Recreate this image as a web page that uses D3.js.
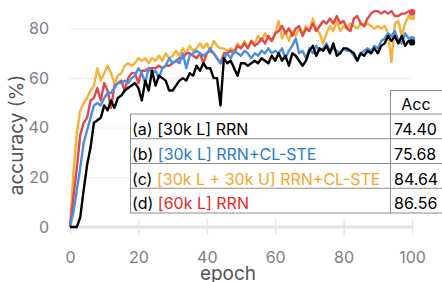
<!DOCTYPE html>
<html>
<head>
<meta charset="utf-8">
<script src="https://cdn.jsdelivr.net/npm/d3@7"></script>
<style>
  body { margin: 0; background: #fff; }
  svg text { font-family: Inter, "Liberation Sans", Arial, sans-serif; }
</style>
</head>
<body>
<div id="chart-area"></div>
<script>
const width = 442, height = 282;

// epochs 0..100
const epochs = d3.range(0, 101);

const accA = [0,0,0,4,15,25,32,42,43,44,
  49,47,51,48,52,53,55,56,57,58,
  56,51,59,55,63,57,61,60,59,55,
  55,57,59,60,59,62,61,65,63,66,
  64,64,60,60,49,68,66,67,64,61,
  66,66,65,66,67,66,68,67,66,69,
  67,70,67,69,65,70,69,67,65,67,
  71,73,69,72,71,73,70,74,69,70,
  72,72,71,70,67,70,69,71,70,72,
  70,73,74,77,75,77,74,77,73,75,
  74.4];

const accB = [0,6,15,24,34,39,44,49,50,49,
  52,54,54,56,58,58,59,58,60,61,
  64,62,58,64,62,63,60,64,65,68,
  66,67,66,70,64,69,70,71,70,69,
  70,72,70,68,66,68,70,68,71,70,
  69,71,70,68,70,69,71,70,72,70,
  71,70,72,68,71,73,76,70,71,68,
  72,70,73,71,72,74,71,72,71,70,
  72,71,71,69,67,70,71,72,71,73,
  72,75,76,78,77,79,75,74,78,76,
  75.68];

const accC = [0,22,38,47,50,52,55,57,64,59,
  62,65,62,58,61,62,65,66,65,66,
  68,67,68,66,68,67,69,67,70,68,
  69,71,69,72,70,73,71,72,74,72,
  74,71,75,73,72,72,71,72,71,74,
  72,75,72,75,74,77,75,78,76,75,
  78,83,76,79,75,79,77,80,78,81,
  79,84,80,78,74,78,81,79,83,79,
  81,80,82,81,80,82,81,82,81,80,
  81,80,81,78,66.5,82,83,77,82,85,
  84.64];

const accD = [0,12,24,37,42,44,51,52,56,51,
  58,55,48,57,58,59,55,60,62,62,
  58,63,63,64,64,64,65,64,65,65,
  66,67,68,68,70,70,69,68,70,66,
  70,71,70,68,66,70,70,71,70,73,
  72,74,72,75,73,74,76,74,77,75,
  78,79,81,78,80,77,80,81,77,80,
  79,82,79,81,83,82,84,82,85,82,
  83,80,79,84,85,82,81,84,86,87,
  87,86,87,86,87,85,85,86,86,87,
  86.56];

const rowLabels = ["(a) ", "(b) ", "(c) ", "(d) "];
const rowNames = ["[30k L] RRN", "[30k L] RRN+CL-STE", "[30k L + 30k U] RRN+CL-STE", "[60k L] RRN"];
const rowAcc = ["74.40", "75.68", "84.64", "86.56"];
const xTicks = [0, 20, 40, 60, 80, 100];
const yTicks = [0, 20, 40, 60, 80];

const lineColors = {a:"#000000", b:"#4a8fe0", c:"#f3b23a", d:"#e2474a"};
const textColors = ["#000000", "#2b7cc2", "#f5a62a", "#e8262b"];

const svg = d3.select("#chart-area").append("svg")
    .attr("width", width)
    .attr("height", height);

const x = d3.scaleLinear().domain([0, 100]).range([70, 412]);
const y = d3.scaleLinear().domain([0, 80]).range([227, 28.5]);

// y grid + labels
const yAxis = svg.append("g")
    .attr("transform", "translate(70,0)")
    .call(d3.axisLeft(y).tickValues(yTicks).tickSize(-(412 - 70)).tickPadding(21));
yAxis.select(".domain").remove();
yAxis.selectAll(".tick line").attr("stroke", "#ebebeb").attr("stroke-width", 1);
yAxis.selectAll(".tick text")
    .attr("fill", "#7d7d88")
    .style("font-size", "16px");

// x axis
const xAxis = svg.append("g")
    .attr("transform", "translate(0,227)")
    .call(d3.axisBottom(x).tickValues(xTicks).tickSize(8).tickPadding(17));
xAxis.select(".domain").attr("stroke", "#e2e2e2").attr("stroke-width", 3)
    .attr("d", "M" + x(0) + ",0H" + x(100));
xAxis.selectAll(".tick line").attr("stroke", "#e4e4e4").attr("stroke-width", 1.5)
    .attr("y1", -8).attr("y2", 8);
xAxis.selectAll(".tick text")
    .attr("fill", "#7d7d88")
    .style("font-size", "16px");

// axis titles
svg.append("text")
    .attr("x", 228).attr("y", 280)
    .attr("text-anchor", "middle")
    .attr("fill", "#555")
    .style("font-size", "19px")
    .text("epoch");

svg.append("text")
    .attr("transform", "translate(23,135) rotate(-90)")
    .attr("text-anchor", "middle")
    .attr("fill", "#555")
    .style("font-size", "19px")
    .text("accuracy (%)");

// lines
const line = d3.line()
    .x((d, i) => x(epochs[i]))
    .y(d => y(d));

const series = [
  {key:"c", values: accC},
  {key:"d", values: accD},
  {key:"b", values: accB},
  {key:"a", values: accA}
];

series.forEach(function(s) {
  svg.append("path")
      .datum(s.values)
      .attr("fill", "none")
      .attr("stroke", lineColors[s.key])
      .attr("stroke-width", 2.4)
      .attr("stroke-linejoin", "round")
      .attr("d", line);
  svg.append("circle")
      .attr("cx", x(epochs[epochs.length - 1]))
      .attr("cy", y(s.values[s.values.length - 1]))
      .attr("r", 3.2)
      .attr("fill", lineColors[s.key]);
});

// legend table
const tbl = svg.append("g");
const rowTop = 114, rowH = 24.75, colX = 390, left = 130;

tbl.append("rect")
    .attr("x", left).attr("y", rowTop)
    .attr("width", width - left + 5).attr("height", rowH * 4)
    .attr("fill", "#fff");
tbl.append("rect")
    .attr("x", colX).attr("y", 90)
    .attr("width", 60).attr("height", 24)
    .attr("fill", "#fff");

const lineCol = "#8c8c8c";
[0, 1, 2, 3, 4].forEach(function(i) {
  tbl.append("line")
      .attr("x1", left).attr("x2", width + 2)
      .attr("y1", rowTop + i * rowH).attr("y2", rowTop + i * rowH)
      .attr("stroke", lineCol).attr("stroke-width", 1);
});
tbl.append("line")
    .attr("x1", colX).attr("x2", width + 2)
    .attr("y1", 90.5).attr("y2", 90.5)
    .attr("stroke", lineCol);
tbl.append("line")
    .attr("x1", left + 0.5).attr("x2", left + 0.5)
    .attr("y1", rowTop).attr("y2", rowTop + rowH * 4)
    .attr("stroke", lineCol);
tbl.append("line")
    .attr("x1", colX + 0.5).attr("x2", colX + 0.5)
    .attr("y1", 90).attr("y2", rowTop + rowH * 4)
    .attr("stroke", lineCol);

tbl.append("text")
    .attr("x", 416).attr("y", 110)
    .attr("text-anchor", "middle")
    .style("font-size", "16px")
    .text("Acc");

rowLabels.forEach(function(lab, i) {
  const t = tbl.append("text")
      .attr("x", 132).attr("y", rowTop + i * rowH + 21)
      .style("font-size", "16px");
  t.append("tspan").attr("fill", "#000").text(lab);
  t.append("tspan").attr("fill", textColors[i]).text(rowNames[i]);
  tbl.append("text")
      .attr("x", 394).attr("y", rowTop + i * rowH + 21)
      .style("font-size", "16px")
      .text(rowAcc[i]);
});
</script>
</body>
</html>
